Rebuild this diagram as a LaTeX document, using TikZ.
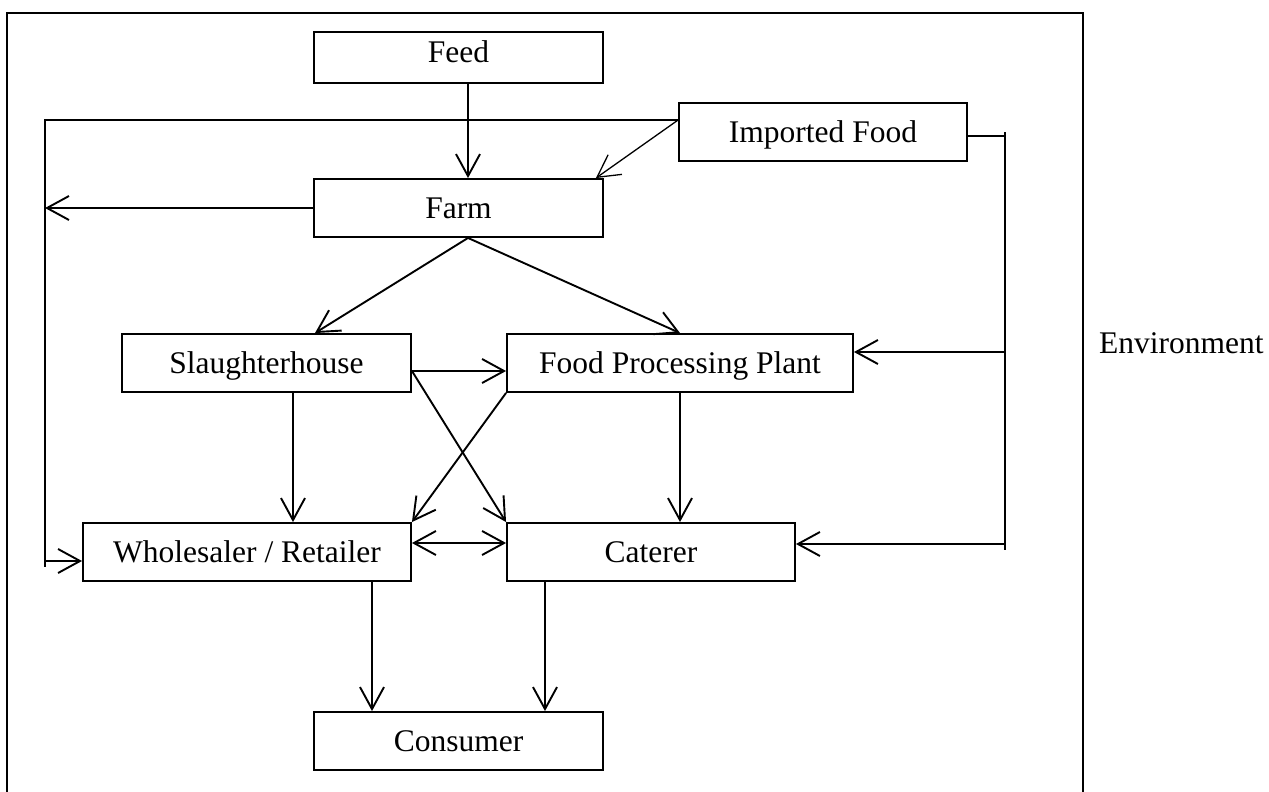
\documentclass[tikz,border=0pt]{standalone}
\usepackage{fontspec}
\setmainfont{Liberation Serif}
\usetikzlibrary{arrows.meta}
\begin{document}
\begin{tikzpicture}[x=1pt,y=-1pt,
  txt/.style={font=\fontsize{31.5}{36}\selectfont},
  box/.style={txt, draw, line width=1.9pt, inner sep=0pt, minimum height=58pt,
    text height=20pt, text depth=0pt},
  wire/.style={line width=1.9pt},
  thinwire/.style={line width=1.3pt},
  flow/.style={wire, -{Straight Barb[length=22pt,width=24pt]}},
  thinflow/.style={thinwire, -{Straight Barb[length=22pt,width=24pt]}},
  twoway/.style={wire, {Straight Barb[length=22pt,width=24pt]}-{Straight Barb[length=22pt,width=24pt]}},
  frame/.style={line width=1.9pt}
]
\useasboundingbox (0,0) rectangle (1269,792);

% outer frame
\draw[frame] (7,792) -- (7,13) -- (1083,13) -- (1083,792);

% boxes
\node[box, minimum width=289pt, minimum height=51pt, text depth=10pt] (feed) at (458.5,57.5) {Feed};
\node[box, minimum width=288pt] (imp) at (823,132) {Imported Food};
\node[box, minimum width=289pt] (farm) at (458.5,208) {Farm};
\node[box, minimum width=289pt] (slaughter) at (266.5,363) {Slaughterhouse};
\node[box, minimum width=346pt] (fpp) at (680,363) {Food Processing Plant};
\node[box, minimum width=328pt] (whole) at (247,552) {Wholesaler / Retailer};
\node[box, minimum width=288pt] (cat) at (651,552) {Caterer};
\node[box, minimum width=289pt] (cons) at (458.5,741) {Consumer};
\node[txt, anchor=base west, inner sep=0pt] (env) at (1099,353) {Environment};

% bus lines
\coordinate (lt) at (45,121);
\coordinate (lb) at (45,567);
\coordinate (rt) at (1005,132);
\coordinate (rb) at (1005,550);
\coordinate (impa) at ([yshift=-18pt]imp.north west);

% feed and imports into the farm
\draw[flow] ([xshift=9.5pt]feed.south) -- ([xshift=9.5pt]feed.south |- farm.north);
\draw[thinflow] (impa) -- ([xshift=-8pt]farm.north east);
\draw[thinwire] (impa) -- (impa -| lt) -- (lb);

% left bus
\draw[flow] (farm.west) -- (farm.west -| lt);
\coordinate (wl) at ([yshift=-9pt]whole.west);
\draw[flow] (wl -| lt) -- (wl);

% right bus
\coordinate (ie) at ([yshift=-4pt]imp.east);
\draw[wire] (ie) -- (ie -| rt);
\draw[wire] (rt) -- (rb);
\coordinate (fe) at ([yshift=11pt]fpp.east);
\draw[flow] (fe -| rt) -- (fe);
\coordinate (ce) at ([yshift=8pt]cat.east);
\draw[flow] (ce -| rt) -- (ce);

% farm outputs
\draw[flow] ([xshift=9.5pt]farm.south) -- ([xshift=48.5pt]slaughter.north);
\draw[flow] ([xshift=9.5pt]farm.south) -- (fpp.north);

% processing stage
\coordinate (se) at ([yshift=-8pt]slaughter.east);
\draw[flow] (se) -- (se -| fpp.west);
\draw[flow] (se) -- (cat.north west);
\draw[flow] (fpp.south west) -- (whole.north east);
\draw[flow] ([xshift=26.5pt]slaughter.south) -- ([xshift=26.5pt]slaughter.south |- whole.north);
\draw[flow] (fpp.south) -- (fpp.south |- cat.north);

% distribution
\coordinate (we) at ([yshift=9pt]whole.east);
\draw[twoway] (we) -- (we -| cat.west);
\draw[flow] ([xshift=125pt]whole.south) -- ([xshift=125pt]whole.south |- cons.north);
\draw[flow] ([xshift=-106pt]cat.south) -- ([xshift=-106pt]cat.south |- cons.north);
\end{tikzpicture}
\end{document}
